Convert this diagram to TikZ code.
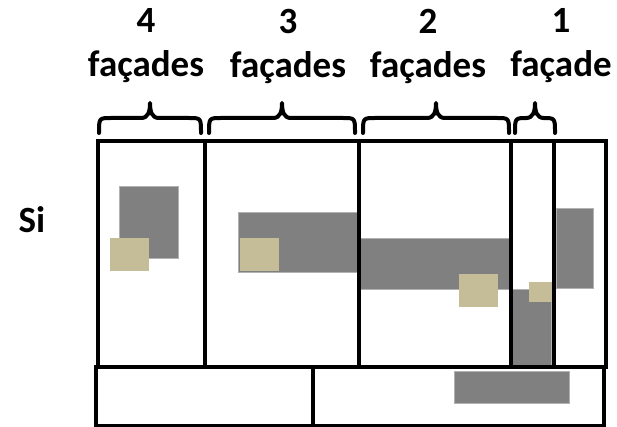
\documentclass[tikz,border=0pt]{standalone}
\usepackage{fontspec}
\setmainfont{Carlito}
\definecolor{boxgray}{HTML}{808080}
\definecolor{tan}{HTML}{C4BD97}
\tikzset{
  frame/.style={line width=4pt, black},
  gbox/.style={fill=boxgray, draw=gray!60, line width=0.8pt},
  tbox/.style={fill=tan},
  bracestyle/.style={line width=4pt, line cap=round, line join=round},
  lbl/.style={font=\fontsize{37}{44}\selectfont\bfseries, inner sep=0pt, align=center}
}
\newcommand{\mybrace}[3]{% x1, x2, mid
  \draw[bracestyle] (#1,133) .. controls (#1,118) .. (#1+12,118) -- (#3-9,118)
    .. controls (#3-2,118) and (#3,112) .. (#3,103)
    .. controls (#3,112) and (#3+2,118) .. (#3+9,118) -- (#2-12,118)
    .. controls (#2,118) .. (#2,133);}
\begin{document}
\begin{tikzpicture}[x=1pt,y=-1pt]
\useasboundingbox (0,0) rectangle (617,427);
% gray and tan boxes
\fill[gbox] (119,186) rectangle (178,258);
\fill[tbox] (110,238) rectangle (149,271);
\fill[gbox] (238,212) rectangle (358,272);
\fill[tbox] (240,238) rectangle (279,271);
\fill[gbox] (360,238) rectangle (510,289);
\fill[tbox] (459,274) rectangle (498,307);
\fill[gbox] (556,208) rectangle (593,288);
\fill[gbox] (512,289) rectangle (551,367);
\fill[tbox] (529,282) rectangle (552,302);
\fill[gbox] (454,371) rectangle (569,403);
% frame
\draw[frame] (98,141) rectangle (606,367);
\draw[frame] (205,141) -- (205,367);
\draw[frame] (359,141) -- (359,367);
\draw[frame] (511,141) -- (511,367);
\draw[frame] (554,141) -- (554,367);
\draw[frame] (96,367) rectangle (604,426);
\draw[frame] (313,367) -- (313,426);
% braces
\mybrace{99}{201}{150}
\mybrace{209}{355}{282}
\mybrace{363}{509}{436}
\mybrace{515}{555}{535}
% labels
\node[lbl] (t4) at (146,46) {4\\façades};
\node[lbl] (t3) at (288,46) {3\\façades};
\node[lbl] (t2) at (428,46) {2\\façades};
\node[lbl] (t1) at (561,46) {1\\façade};
\node[lbl] (si) at (32,220) {Si};
\end{tikzpicture}
\end{document}
